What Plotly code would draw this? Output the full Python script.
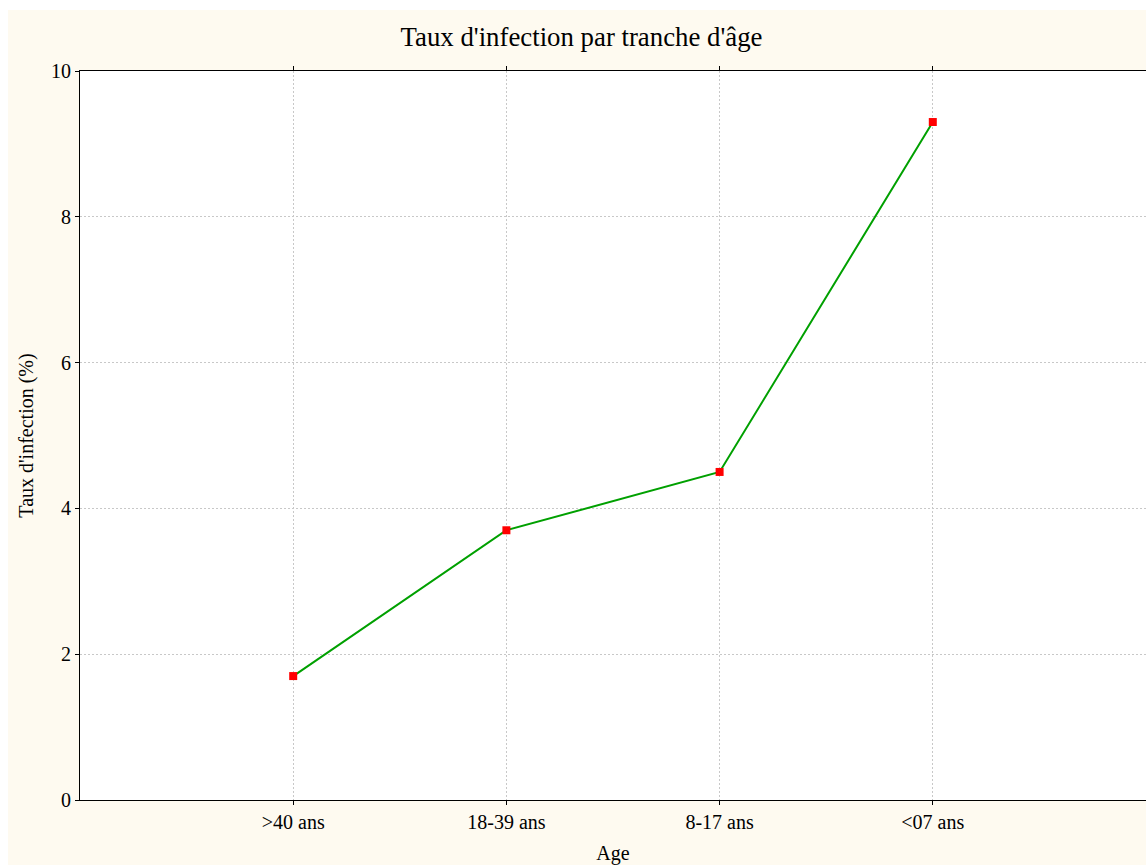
import plotly.graph_objects as go

categories = [">40 ans", "18-39 ans", "8-17 ans", "<07 ans"]
values = [1.7, 3.7, 4.5, 9.3]
y_ticks = [0, 2, 4, 6, 8, 10]

CREAM = "#fefaf0"
FONT = "Liberation Serif, Times New Roman, serif"
W, H = 1146, 865
L, T, B = 80, 71, 65
PW, PH = W - L, H - T - B

fig = go.Figure()
fig.add_trace(go.Scatter(
    x=list(range(len(categories))), y=values, mode="lines+markers",
    line=dict(color="#00a000", width=2),
    marker=dict(color="#ff0000", symbol="square", size=8),
    showlegend=False,
))

# cream page background (starts a few pixels in from the top-left corner)
fig.add_shape(type="rect", xref="paper", yref="paper",
              x0=(8 - L) / PW, x1=1.05, y0=-0.2, y1=(H - B - 10) / PH,
              fillcolor=CREAM, line=dict(width=0), layer="below")
# white plot area
fig.add_shape(type="rect", xref="x domain", yref="y domain",
              x0=0, x1=1, y0=0, y1=1,
              fillcolor="white", line=dict(width=0), layer="below")

grid = dict(showgrid=True, gridcolor="#c8c8c8", griddash="2px,2px", gridwidth=1)

fig.update_layout(
    width=W, height=H,
    margin=dict(l=L, r=0, t=T, b=B, autoexpand=False),
    paper_bgcolor="white", plot_bgcolor="white",
    font=dict(family=FONT, color="black", size=20),
    title=dict(text="Taux d'infection par tranche d'âge", x=(581.5 - L) / PW, xref="paper",
               xanchor="center",
               y=1 - 37 / H, yanchor="middle", font=dict(size=26.8, family=FONT)),
    xaxis=dict(
        range=[-1, 4], tickvals=list(range(len(categories))), ticktext=categories,
        showline=True, linecolor="black", linewidth=1, mirror="ticks",
        ticks="outside", ticklen=4, tickcolor="black", automargin=False,
        zeroline=False, **grid,
        title=dict(text="Age", standoff=16, font=dict(size=20)),
    ),
    yaxis=dict(
        range=[0, 10], tickvals=y_ticks,
        showline=True, linecolor="black", linewidth=1, mirror="ticks",
        ticks="outside", ticklen=4, tickcolor="black", automargin=False,
        zeroline=False, **grid,
        title=dict(text="Taux d'infection (%)", standoff=12, font=dict(size=20)),
    ),
)

fig.write_html("out.html", config={"displayModeBar": False},
               post_script="document.body.style.margin='0';document.body.style.overflow='hidden';")
